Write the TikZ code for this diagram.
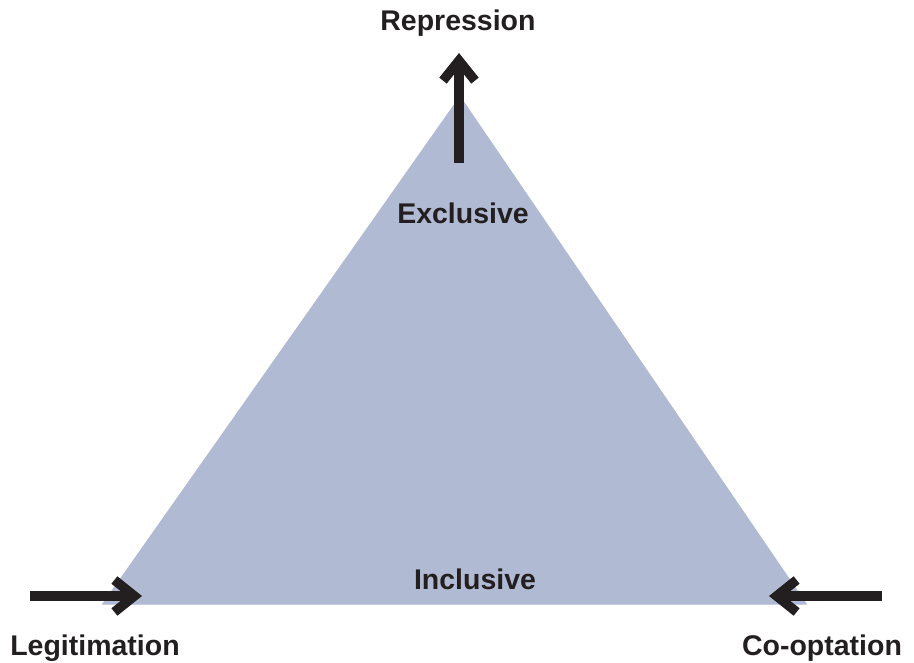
\documentclass[tikz,border=0pt]{standalone}
\usepackage{fontspec}
\setmainfont{Liberation Sans}
\usepackage{xcolor}
\usetikzlibrary{arrows.meta}
\definecolor{trifill}{HTML}{B1BAD3}
\definecolor{ink}{HTML}{231F20}

\begin{document}
\begin{tikzpicture}[x=0.01cm, y=-0.01cm,
	lbl/.style={font=\fontsize{8.1}{10}\selectfont\bfseries, text=ink, inner sep=0pt},
	force/.style={draw=ink, line width=2.7pt, -{Straight Barb[length=0.2cm, width=0.32cm, line width=2.7pt]}}]
	\useasboundingbox (0,0) rectangle (914,663);
	\filldraw[trifill] (460,97) -- (806,604) -- (103,604) -- cycle;
	
	\node[lbl] (repression) at (458,23) {Repression};
	\node[lbl] (exclusive) at (463,213) {Exclusive};
	\node[lbl] (inclusive) at (475,579) {Inclusive};
	\node[lbl] (legitimation) at (95,648) {Legitimation};
	\node[lbl] (cooptation) at (822,648) {Co-optation};
	
	\coordinate (upstart) at (459,163);
	\coordinate (uptip) at (459,53);
	\coordinate (leftstart) at (30,596);
	\coordinate (lefttip) at (142,596);
	\coordinate (rightstart) at (882,596);
	\coordinate (righttip) at (769,596);
	
	\draw[force] (upstart) -- (uptip);
	\draw[force] (leftstart) -- (lefttip);
	\draw[force] (rightstart) -- (righttip);
\end{tikzpicture}
\end{document}
